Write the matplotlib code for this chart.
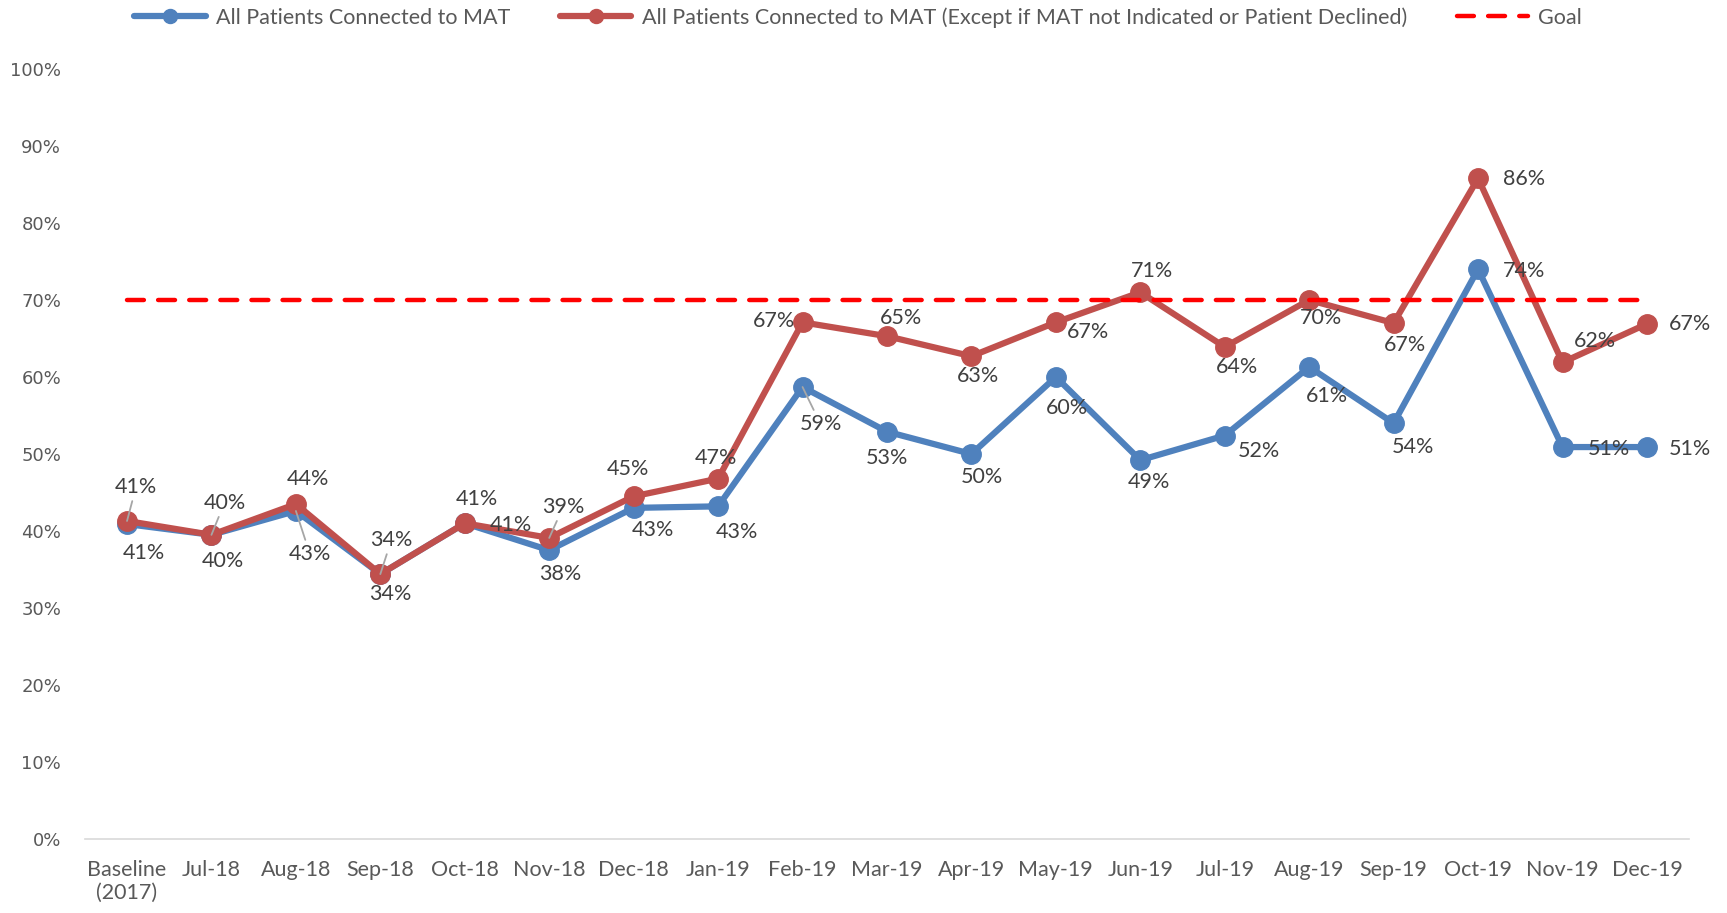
import matplotlib.pyplot as plt
from matplotlib.ticker import FuncFormatter

months = ["Baseline\n(2017)", "Jul-18", "Aug-18", "Sep-18", "Oct-18", "Nov-18",
          "Dec-18", "Jan-19", "Feb-19", "Mar-19", "Apr-19", "May-19", "Jun-19",
          "Jul-19", "Aug-19", "Sep-19", "Oct-19", "Nov-19", "Dec-19"]

all_patients = [40.9, 39.5, 42.6, 34.4, 41.0, 37.5, 43.0, 43.2, 58.7, 52.9,
                50.0, 60.0, 49.2, 52.4, 61.3, 54.0, 74.0, 50.9, 50.9]
except_declined = [41.3, 39.5, 43.5, 34.4, 41.0, 39.1, 44.5, 46.8, 67.1, 65.3,
                   62.7, 67.1, 71.0, 63.9, 70.0, 67.0, 85.8, 61.9, 66.9]
goal = [70] * len(months)

blue_name = "All Patients Connected to MAT"
red_name = "All Patients Connected to MAT (Except if MAT not Indicated or Patient Declined)"

# label offsets in pixels (dx, dy) and which labels get a leader line
blue_offsets = [(17, -29), (11, -26), (14, -43), (10, -20), (46, -2), (11, -24),
                (19, -22), (19, -26), (18, -37), (0, -26), (10, -23), (11, -31),
                (9, -22), (34, -15), (18, -29), (19, -24), (46, -2), (46, -2), (43, -2)]
blue_leaders = [2, 8]
red_offsets = [(9, 34), (13, 32), (12, 25), (11, 34), (12, 24), (14, 31),
               (-6, 27), (-2, 21), (-29, 1), (14, 18), (7, -20), (32, -10),
               (12, 21), (12, -20), (12, -18), (11, -22), (46, -1), (32, 21), (43, 0)]
red_leaders = [0, 1, 3, 5]

BLUE = "#4F81BD"
RED = "#C0504D"
LABEL = "#404040"
TICK = "#595959"
FONT = "Lato"
FS = 15.5

fig = plt.figure(figsize=(17.27, 9.13), dpi=100)
ax = fig.add_axes([0.0491, 0.0811, 0.929, 0.8433])

x = list(range(len(months)))
ax.plot(x, all_patients, color=BLUE, lw=4.5, marker="o", ms=14,
        solid_capstyle="round", solid_joinstyle="round", label=blue_name, zorder=3)
ax.plot(x, except_declined, color=RED, lw=4.5, marker="o", ms=14,
        solid_capstyle="round", solid_joinstyle="round", label=red_name, zorder=4)
ax.plot(x, goal, color="#FF0000", lw=3.2, linestyle=(0, (3.8, 3.2)),
        dash_capstyle="round", label="Goal", zorder=5)


def add_labels(values, offsets, leaders):
    for i, v in enumerate(values):
        dx, dy = offsets[i]
        props = None
        if i in leaders:
            props = dict(arrowstyle="-", color="#A6A6A6", lw=1.3,
                         shrinkA=1, shrinkB=0)
        ax.annotate(f"{int(v + 0.5)}%", (i, v), xytext=(dx, dy),
                    textcoords="offset pixels", ha="center", va="center",
                    fontsize=FS, family=FONT, color=LABEL,
                    arrowprops=props, zorder=6)


add_labels(all_patients, blue_offsets, blue_leaders)
add_labels(except_declined, red_offsets, red_leaders)

ax.set_xlim(-0.5, len(months) - 0.5)
ax.set_ylim(0, 100)
ax.set_yticks(range(0, 101, 10))
ax.yaxis.set_major_formatter(FuncFormatter(lambda v, p: f"{int(v)}%"))
ax.set_xticks(x)
ax.set_xticklabels(months, family=FONT, fontsize=FS, color=TICK)
for lab in ax.get_yticklabels():
    lab.set_family("DejaVu Sans")
    lab.set_fontsize(13)
    lab.set_color(TICK)
ax.tick_params(axis="y", length=0, pad=17)
ax.tick_params(axis="x", length=0, pad=15)

for s in ["top", "right", "left"]:
    ax.spines[s].set_visible(False)
ax.spines["bottom"].set_color("#D9D9D9")
ax.spines["bottom"].set_linewidth(1.2)

fig.legend(loc="center", bbox_to_anchor=(0.497, 0.981), ncol=3, frameon=False,
           prop={"family": FONT, "size": FS}, labelcolor=TICK, markerscale=0.72,
           handlelength=3.3, handletextpad=0.5, columnspacing=2.3)

fig.savefig("out.png", dpi=100)
